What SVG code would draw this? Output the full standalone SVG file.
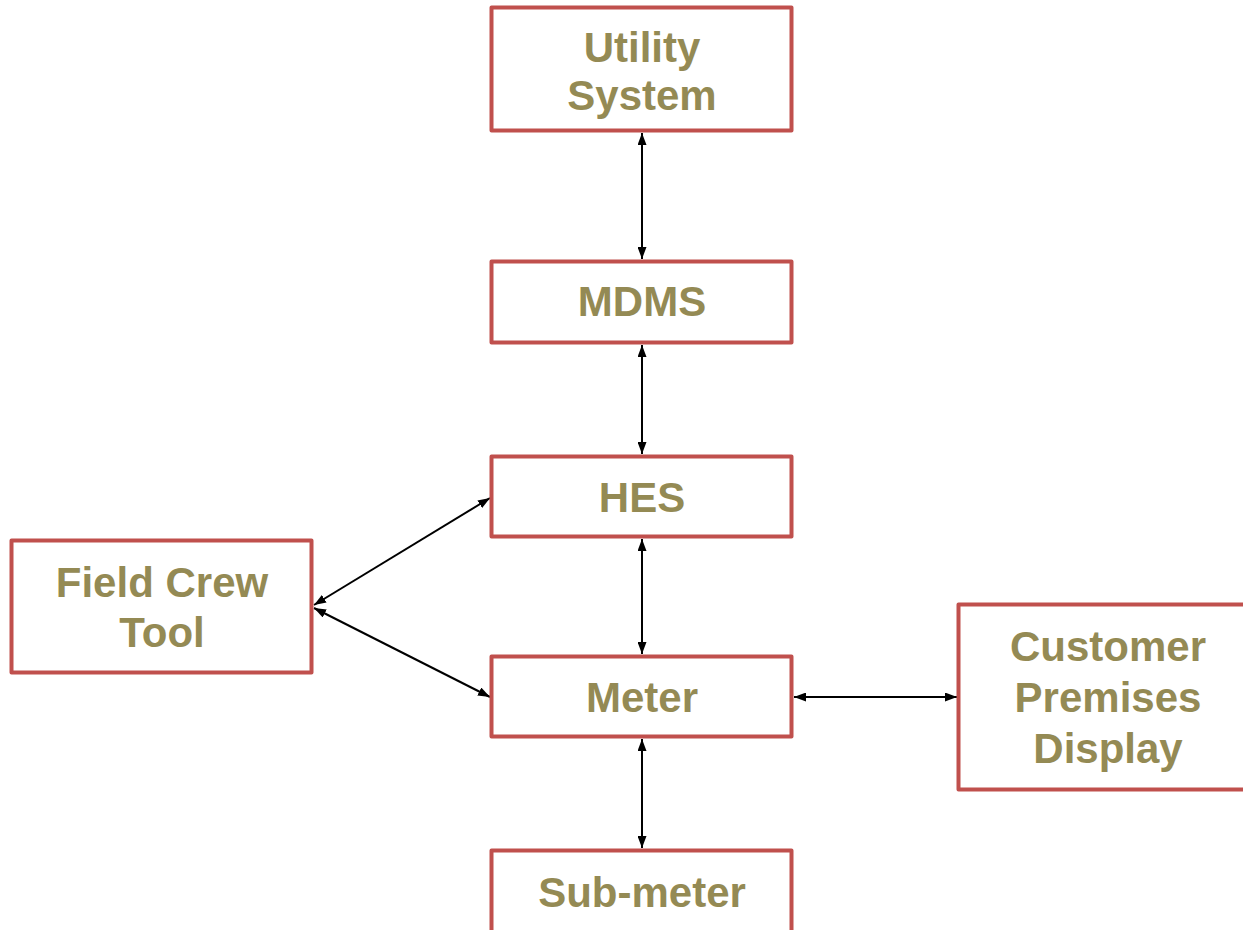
<svg xmlns="http://www.w3.org/2000/svg" width="1243" height="930" viewBox="0 0 1243 930">
<defs>
<style>
.box{fill:#fff;stroke:#C0504D;stroke-width:4;stroke-linejoin:round;}
.lbl{font-family:"Liberation Sans",Arial,sans-serif;font-weight:bold;font-size:42px;fill:#948A54;text-anchor:middle;}
.con{stroke:#000;stroke-width:2;fill:none;marker-start:url(#ah);marker-end:url(#ah);}
</style>
<marker id="ah" viewBox="0 0 12 9" refX="12" refY="4.5" markerWidth="12" markerHeight="9" markerUnits="userSpaceOnUse" orient="auto-start-reverse">
<path d="M0,0 L12,4.5 L0,9 Z" fill="#000"/>
</marker>
</defs>
<rect width="1243" height="930" fill="#fff"/>
<g id="connectors">
<line class="con" x1="642" y1="133" x2="642" y2="259"/>
<line class="con" x1="642" y1="345" x2="642" y2="454"/>
<line class="con" x1="642" y1="539" x2="642" y2="654"/>
<line class="con" x1="642" y1="739" x2="642" y2="848"/>
<line class="con" x1="314" y1="605" x2="490" y2="498"/>
<line class="con" x1="314" y1="608" x2="490" y2="697"/>
<line class="con" x1="794" y1="697" x2="957" y2="697"/>
</g>
<g id="utility">
<rect class="box" x="491.5" y="7.5" width="300" height="123"/>
<text class="lbl" x="642" y="62">Utility</text>
<text class="lbl" x="642" y="110">System</text>
</g>
<g id="mdms">
<rect class="box" x="491.5" y="261.5" width="300" height="81"/>
<text class="lbl" x="642" y="316">MDMS</text>
</g>
<g id="hes">
<rect class="box" x="491.5" y="456.5" width="300" height="80"/>
<text class="lbl" x="642" y="512">HES</text>
</g>
<g id="meter">
<rect class="box" x="491.5" y="656.5" width="300" height="80"/>
<text class="lbl" x="642" y="712">Meter</text>
</g>
<g id="submeter">
<rect class="box" x="491.5" y="850.5" width="300" height="120"/>
<text class="lbl" x="642" y="907">Sub-meter</text>
</g>
<g id="fieldcrew">
<rect class="box" x="11.5" y="540.5" width="300" height="132"/>
<text class="lbl" x="162" y="597">Field Crew</text>
<text class="lbl" x="162" y="647">Tool</text>
</g>
<g id="customer">
<rect class="box" x="958.5" y="604.5" width="320" height="185"/>
<text class="lbl" x="1108" y="661">Customer</text>
<text class="lbl" x="1108" y="712">Premises</text>
<text class="lbl" x="1108" y="763">Display</text>
</g>
</svg>
